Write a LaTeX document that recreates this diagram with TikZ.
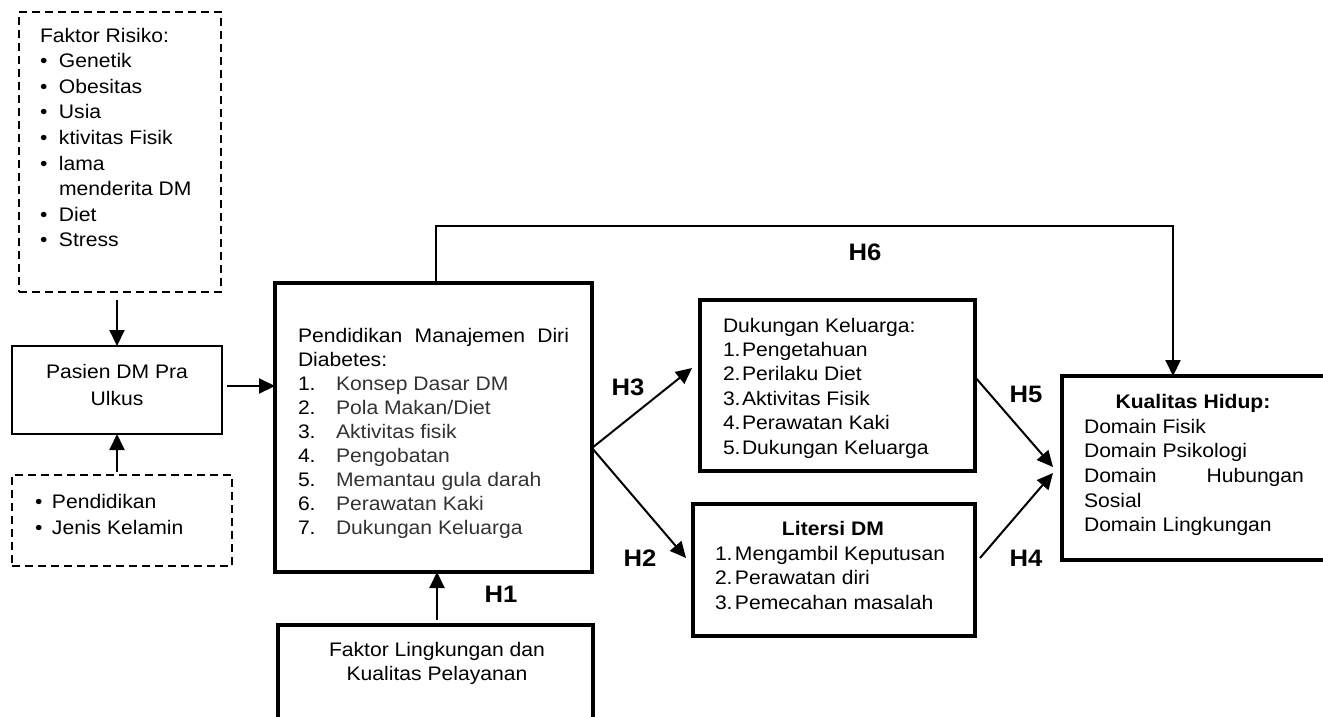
\documentclass[tikz,border=0pt]{standalone}
\usepackage{fontspec}
\setmainfont{Liberation Sans}[FakeStretch=1.077]
\usetikzlibrary{arrows.meta,calc}
\begin{document}
\begin{tikzpicture}[x=1pt,y=-1pt,
  mybox/.style={draw, line width=3.3pt, inner sep=0pt, outer sep=0pt, anchor=north west, rectangle},
  dbox/.style={draw, line width=2pt, dash pattern=on 8pt off 5pt, inner sep=0pt, outer sep=0pt, anchor=north west, rectangle},
  arr/.style={line width=2pt, -{Triangle[length=16pt,width=15pt]}},
  txt/.style={inner sep=0pt, outer sep=0pt, anchor=base west},
  ctxt/.style={inner sep=0pt, outer sep=0pt, anchor=base},
  hlab/.style={inner sep=0pt, outer sep=0pt, anchor=base, font=\bfseries\fontsize{23.8}{28}\selectfont}]
\useasboundingbox (0,0) rectangle (1323,716);
\clip (0,0) rectangle (1323,716);

% ---------- boxes ----------
\node[dbox, minimum width=202pt, minimum height=280pt] (A) at (19,12) {};
\node[mybox, line width=2.7pt, minimum width=210pt, minimum height=88pt] (B) at (12,346) {};
\node[dbox, minimum width=220pt, minimum height=91pt] (D) at (12,475) {};
\node[mybox, minimum width=317pt, minimum height=289pt] (C) at (275,283) {};
\node[mybox, minimum width=275pt, minimum height=171pt] (E) at (700,300) {};
\node[mybox, minimum width=282pt, minimum height=132pt] (F) at (693,504) {};
\node[mybox, minimum width=300pt, minimum height=184pt] (K) at (1062,376) {};
\node[mybox, minimum width=315pt, minimum height=130pt] (G) at (278,625) {};

% ---------- texts ----------
\node[txt, font=\fontsize{19.6}{25.6}\selectfont] (tA) at (40,42) {%
\begin{tabular}[t]{@{}l@{}l@{}}
\multicolumn{2}{@{}l@{}}{Faktor Risiko:}\\
\makebox[19pt][l]{•} & Genetik\\
\makebox[19pt][l]{•} & Obesitas\\
\makebox[19pt][l]{•} & Usia\\
\makebox[19pt][l]{•} & ktivitas Fisik\\
\makebox[19pt][l]{•} & lama\\
 & menderita DM\\
\makebox[19pt][l]{•} & Diet\\
\makebox[19pt][l]{•} & Stress
\end{tabular}};

\node[ctxt, font=\fontsize{19.6}{27}\selectfont] (tB) at (117,378) {%
\begin{tabular}[t]{@{}c@{}}Pasien DM Pra\\ Ulkus\end{tabular}};

\node[txt, font=\fontsize{19.6}{26}\selectfont] (tD) at (35,508) {%
\begin{tabular}[t]{@{}l@{}l@{}}
\makebox[17pt][l]{•} & Pendidikan\\
\makebox[17pt][l]{•} & Jenis Kelamin
\end{tabular}};

\node[txt, font=\fontsize{19.6}{24.1}\selectfont] (tC) at (298,342) {%
\begin{tabular}[t]{@{}l@{}l@{}}
\multicolumn{2}{@{}l@{}}{\makebox[271pt][s]{Pendidikan Manajemen Diri}}\\
\multicolumn{2}{@{}l@{}}{Diabetes:}\\
\makebox[38pt][l]{1.} & \color{black!80}Konsep Dasar DM\\
\makebox[38pt][l]{2.} & \color{black!80}Pola Makan/Diet\\
\makebox[38pt][l]{3.} & \color{black!80}Aktivitas fisik\\
\makebox[38pt][l]{4.} & \color{black!80}Pengobatan\\
\makebox[38pt][l]{5.} & \color{black!80}Memantau gula darah\\
\makebox[38pt][l]{6.} & \color{black!80}Perawatan Kaki\\
\makebox[38pt][l]{7.} & \color{black!80}Dukungan Keluarga
\end{tabular}};

\node[txt, font=\fontsize{19.6}{24.4}\selectfont] (tE) at (723,332) {%
\begin{tabular}[t]{@{}l@{}l@{}}
\multicolumn{2}{@{}l@{}}{Dukungan Keluarga:}\\
\makebox[19pt][l]{1.} & Pengetahuan\\
\makebox[19pt][l]{2.} & Perilaku Diet\\
\makebox[19pt][l]{3.} & Aktivitas Fisik\\
\makebox[19pt][l]{4.} & Perawatan Kaki\\
\makebox[19pt][l]{5.} & Dukungan Keluarga
\end{tabular}};

\node[ctxt, font=\bfseries\fontsize{19.6}{24}\selectfont] (tF1) at (833,535) {Litersi DM};
\node[txt, font=\fontsize{19.6}{24.5}\selectfont] (tF) at (715,560) {%
\begin{tabular}[t]{@{}l@{}l@{}}
\makebox[20pt][l]{1.} & Mengambil Keputusan\\
\makebox[20pt][l]{2.} & Perawatan diri\\
\makebox[20pt][l]{3.} & Pemecahan masalah
\end{tabular}};

\node[ctxt, font=\bfseries\fontsize{19.6}{24}\selectfont] (tK1) at (1193,408) {Kualitas Hidup:};
\node[txt, font=\fontsize{19.6}{24.7}\selectfont] (tK) at (1084,433) {%
\begin{tabular}[t]{@{}l@{}}
Domain Fisik\\
Domain Psikologi\\
\makebox[220pt][s]{Domain Hubungan}\\
Sosial\\
Domain Lingkungan
\end{tabular}};

\node[ctxt, font=\fontsize{19.6}{24}\selectfont] (tG) at (437,656) {%
\begin{tabular}[t]{@{}c@{}}Faktor Lingkungan dan\\ Kualitas Pelayanan\end{tabular}};

% ---------- labels ----------
\node[hlab] (H1) at (501,602) {H1};
\node[hlab] (H2) at (640,566) {H2};
\node[hlab] (H3) at (628,395) {H3};
\node[hlab] (H4) at (1026,566) {H4};
\node[hlab] (H5) at (1026,402) {H5};
\node[hlab] (H6) at (865,260) {H6};

% ---------- connectors ----------
\coordinate (a1) at ($(A.south -| B.north)+(0,8)$);
\draw[arr] (a1) -- (B.north);
\coordinate (d1) at ($(D.north -| B.south)+(0,-3)$);
\draw[arr] (d1) -- (B.south);
\coordinate (b1) at ($(B.east |- 0,386)+(5,0)$);
\draw[arr] (b1) -- (b1 -| C.west);
\coordinate (c1) at (C.east |- 0,448);
\coordinate (e1) at ($(E.west |- 0,368)+(-8,0)$);
\coordinate (f1) at ($(F.west |- 0,558)+(-7,0)$);
\draw[arr] (c1) -- (e1);
\draw[arr] (c1) -- (f1);
\coordinate (e2) at (E.east |- 0,377);
\coordinate (f2) at ($(F.east |- 0,558)+(5,0)$);
\coordinate (k1) at ($(K.west |- 0,467)+(-9,0)$);
\coordinate (k2) at ($(K.west |- 0,473)+(-9,0)$);
\draw[arr] (e2) -- (k1);
\draw[arr] (f2) -- (k2);
\coordinate (h6) at (1173,226);
\coordinate (c6) at (436,283);
\draw[arr] (c6) |- (h6) -- (h6 |- K.north);
\coordinate (g1) at ($(G.north -| 437,0)+(0,-5)$);
\draw[arr] (g1) -- (g1 |- C.south);
\end{tikzpicture}
\end{document}
